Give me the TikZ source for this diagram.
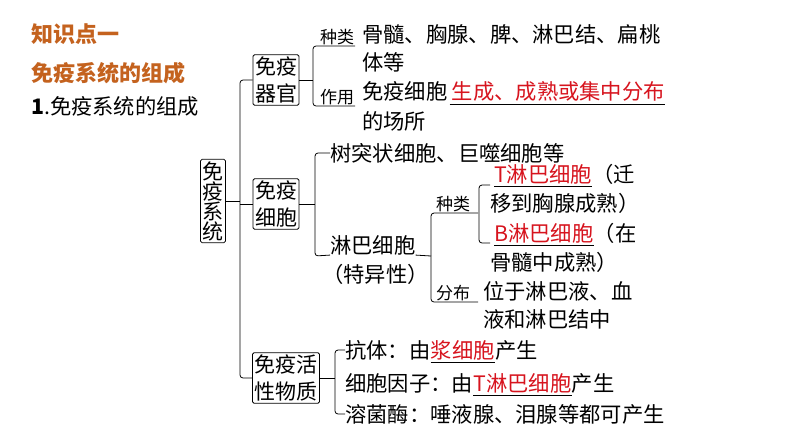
\documentclass[tikz,border=0pt]{standalone}
\usepackage{fontspec}
\setmainfont{Noto Sans CJK SC}
\usetikzlibrary{positioning}
\definecolor{titleorange}{RGB}{196,98,30}
\definecolor{keyred}{RGB}{215,20,30}
\begin{document}
\begin{tikzpicture}[x=1pt, y=-1pt,
    box/.style={draw, thick, rounded corners=1.5pt, inner sep=2pt, align=center,
        font=\fontsize{21}{27}\selectfont},
    txt/.style={anchor=west, inner sep=0pt, font=\fontsize{21.3}{24}\selectfont},
    tag/.style={anchor=south, inner sep=1pt, font=\fontsize{17}{19}\selectfont},
    key/.style={txt, text=keyred},
    brace/.style={draw, thick, rounded corners=3pt},
    title/.style={anchor=west, inner sep=0pt, text=titleorange,
        font=\fontsize{22}{24}\selectfont\bfseries}
]
\useasboundingbox[fill=white] (0,0) rectangle (794,447);
% headings
\node (Head01) [title] at (31,34) {知识点一};
\node (Head02) [title] at (31,73) {免疫系统的组成};
\node (Head03) [txt] at (31,106) {\textbf{1}.免疫系统的组成};

% boxes
\node (Root) [box] at (213,201) {免\\[-7pt]疫\\[-7pt]系\\[-7pt]统};
\node (Organ) [box] at (276,80) {免疫\\器官};
\node (Cell) [box] at (276,204) {免疫\\细胞};
\node (Active) [box] at (286,378) {免疫活\\性物质};

\coordinate (Spine) at (240,201);
\draw [thick] (Root.east) -- (Spine);
\draw [brace] (Organ.west) -| (Spine) |- (Active.west);
\draw [thick] (Spine |- Cell.west) -- (Cell.west);

% organs
\node (OrganKind) [tag] at (337,46) {种类};
\node (OrganUse) [tag] at (337,106) {作用};
\draw [brace] (355,46) -- (313,46) -- (313,106) -- (355,106);
\draw [thick] (Organ.east) -- (313,80);
\node (Organ01) [txt] at (362,34) {骨髓、胸腺、脾、淋巴结、扁桃};
\node (Organ02) [txt] at (362,62) {体等};
\node (Organ03) [txt] at (362,91) {免疫细胞};
\node (Organ04) [key, right=4pt of Organ03] {生成、成熟或集中分布};
\draw [thick] ([shift={(-2pt,-3pt)}]Organ04.south west) -- ([yshift=-3pt]Organ04.south east);
\node (Organ05) [txt] at (362,121) {的场所};

% cells
\node (Cell01) [txt] at (330,153) {树突状细胞、巨噬细胞等};
\node (Lymph) [txt] at (330,245) {淋巴细胞};
\node (Lymph02) [txt] at (322,274) {（特异性）};
\draw [brace] (Cell01.west) -- (315,153) -- (315,256) -- (Lymph.south west);
\draw [thick] (Cell.east) -- (315,204);

\node (LymphKind) [tag] at (453,213) {种类};
\node (LymphWhere) [tag] at (453,302) {分布};
\draw [brace] (478,213) -- (431,213) -- (431,302) -- (478,302);
\draw [thick] (Lymph.south east) -- (431,256);
\draw [brace] (490,185) -- (479,185) -- (479,243) -- (490,243);

\node (TCell) [key] at (494,174) {T淋巴细胞};
\draw [thick] ([yshift=-2pt]TCell.south west) -- ([yshift=-2pt]TCell.south east);
\node (TCell02) [txt, right=0pt of TCell] {（迁};
\node (TCell03) [txt] at (490,203) {移到胸腺成熟）};
\node (BCell) [key] at (494,233) {B淋巴细胞};
\draw [thick] ([yshift=-2pt]BCell.south west) -- ([yshift=-2pt]BCell.south east);
\node (BCell02) [txt, right=0pt of BCell] {（在};
\node (BCell03) [txt] at (490,262) {骨髓中成熟）};
\node (Where01) [txt] at (483,291) {位于淋巴液、血};
\node (Where02) [txt] at (483,319) {液和淋巴结中};

% active substances
\node (Anti) [txt] at (345,350) {抗体：由};
\node (Anti02) [key, right=0pt of Anti] {浆细胞};
\draw [thick] ([yshift=-2pt]Anti02.south west) -- ([yshift=-2pt]Anti02.south east);
\node (Anti03) [txt, right=0pt of Anti02] {产生};
\node (Factor) [txt] at (345,383) {细胞因子：由};
\node (Factor02) [key, right=0pt of Factor] {T淋巴细胞};
\draw [thick] ([yshift=-2pt]Factor02.south west) -- ([yshift=-2pt]Factor02.south east);
\node (Factor03) [txt, right=0pt of Factor02] {产生};
\node (Lyso) [txt] at (345,414) {溶菌酶：唾液腺、泪腺等都可产生};
\draw [brace] (Anti.west) -- (335,350) -- (335,414) -- (Lyso.west);
\draw [thick] (Active.east) -- (335,378);
\end{tikzpicture}
\end{document}
